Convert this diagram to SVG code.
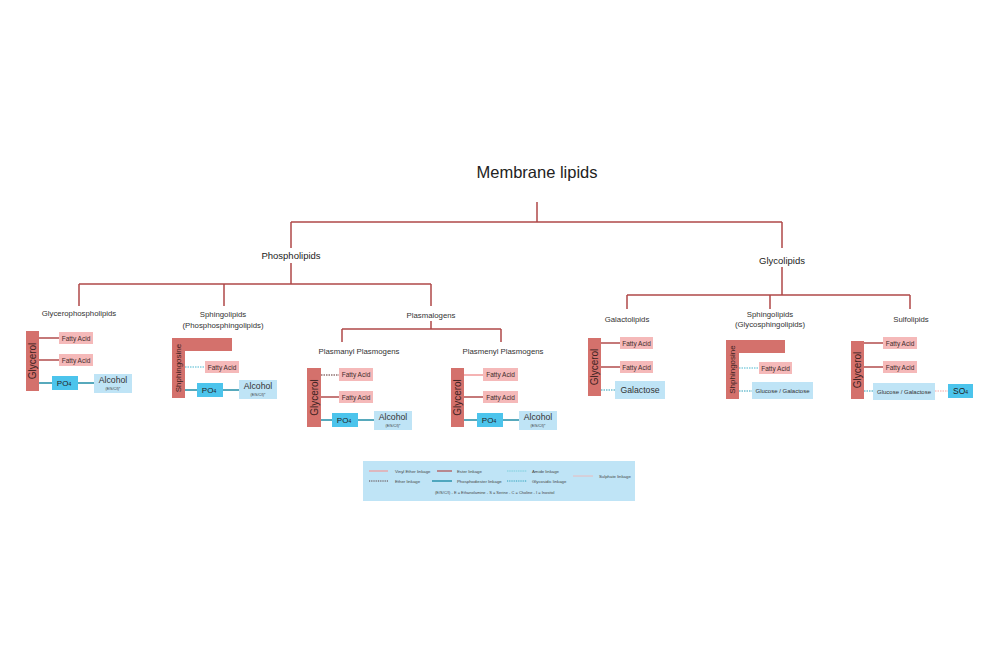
<svg xmlns="http://www.w3.org/2000/svg" width="1000" height="667" viewBox="0 0 1000 667">
<style>
text{font-family:"Liberation Sans","Noto Sans",Arial,sans-serif;fill:#222;text-anchor:middle}
.tree{stroke:#b04848;stroke-width:1.5;fill:none}
.bar{fill:#d4716c}
.fa{fill:#f5b9b9}
.po{fill:#4cc4ec}
.lb{fill:#bfe4f6}
.fat{font-size:6.5px;fill:#3d2b2b}
.bt{font-size:10px;fill:#3a2222}
.st{font-size:7.8px;fill:#333}
.ester{stroke:#b24c4c;stroke-width:1.5}
.vinyl{stroke:#f29a9a;stroke-width:1.5}
.ether{stroke:#5a2a2a;stroke-width:1.2;stroke-dasharray:1.5 1}
.phos{stroke:#1f8da6;stroke-width:1.6}
.glyco{stroke:#2aa0ba;stroke-width:1.2;stroke-dasharray:1.5 1}
.amide{stroke:#4bb8cf;stroke-width:1.2;stroke-dasharray:1.5 1}
.sulph{stroke:#f4a6a6;stroke-width:1.2;stroke-dasharray:1.5 1}
.alc{font-size:8.7px;fill:#333}
.alcs{font-size:3.5px;fill:#333}
.lt{font-size:4.3px;fill:#444;text-anchor:start}
</style>
<rect width="1000" height="667" fill="#ffffff"/>

<g id="tree-connectors">
<path class="tree" d="M537,202 V222 M291,222 H782 M291,222 V248 M782,222 V248"/>
<path class="tree" d="M291,263 V284 M79,284 H431 M79,284 V306 M224,284 V306 M431,284 V306"/>
<path class="tree" d="M431,321 V329 M342,329 H501 M342,329 V342 M501,329 V342"/>
<path class="tree" d="M782,267 V295 M627,295 H910 M627,295 V309 M770,295 V309 M910,295 V309"/>
</g>

<g id="title"><text x="537" y="178" style="font-size:16.5px">Membrane lipids</text></g>
<g id="phospholipids"><text x="291" y="259" style="font-size:9.5px">Phospholipids</text></g>
<g id="glycolipids"><text x="782" y="264" style="font-size:9.5px">Glycolipids</text></g>

<g id="glycerophospholipids">
<text class="st" x="79" y="316">Glycerophospholipids</text>
<g class="link">
<line class="ester" x1="39" y1="338" x2="59" y2="338"/>
<line class="ester" x1="39" y1="360" x2="59" y2="360"/>
<line class="phos" x1="39" y1="383" x2="94" y2="383"/>
</g>
<rect class="bar" x="26" y="331" width="13" height="60"/>
<text class="bt" transform="translate(36.3,361) rotate(-90)">Glycerol</text>
<rect class="fa" x="59" y="332" width="34" height="12"/>
<text class="fat" x="76" y="340.5">Fatty Acid</text>
<rect class="fa" x="59" y="354" width="34" height="12"/>
<text class="fat" x="76" y="362.5">Fatty Acid</text>
<rect class="po" x="52" y="376" width="26" height="14"/>
<text x="64" y="386" style="font-size:8px">PO<tspan style="font-size:5px">4</tspan></text>
<rect class="lb" x="94" y="374" width="38" height="19"/>
<text class="alc" x="113" y="383">Alcohol</text>
<text class="alcs" x="113" y="390">(E/S/C/I)*</text>
</g>

<g id="phosphosphingolipids">
<text class="st" x="223" y="317">Sphingolipids</text>
<text class="st" x="223" y="328">(Phosphosphingolipids)</text>
<line class="amide" x1="185" y1="367" x2="205" y2="367"/>
<line class="phos" x1="185" y1="390" x2="239" y2="390"/>
<path class="bar" d="M172,338 H232 V351 H185 V398 H172 Z"/>
<text transform="translate(181.2,368) rotate(-90)" style="font-size:8px;fill:#3a2222">Shphingosine</text>
<rect class="fa" x="205" y="361" width="34" height="12"/>
<text class="fat" x="222" y="369.5">Fatty Acid</text>
<rect class="po" x="197" y="383" width="26" height="14"/>
<text x="209" y="393" style="font-size:8px">PO<tspan style="font-size:5px">4</tspan></text>
<rect class="lb" x="239" y="380" width="38" height="19"/>
<text class="alc" x="258" y="389">Alcohol</text>
<text class="alcs" x="258" y="396">(E/S/C/I)*</text>
</g>

<g id="plasmalogens">
<text class="st" x="431" y="318">Plasmalogens</text>
</g>

<g id="plasmanyl">
<text class="st" x="359" y="354">Plasmanyl Plasmogens</text>
<line class="ether" x1="321" y1="375" x2="339" y2="375"/>
<line class="ester" x1="321" y1="397" x2="339" y2="397"/>
<line class="phos" x1="321" y1="420" x2="374" y2="420"/>
<rect class="bar" x="307" y="368" width="14" height="59"/>
<text class="bt" transform="translate(317.8,397.5) rotate(-90)">Glycerol</text>
<rect class="fa" x="339" y="368" width="34" height="13"/>
<text class="fat" x="356" y="377">Fatty Acid</text>
<rect class="fa" x="339" y="391" width="34" height="12"/>
<text class="fat" x="356" y="399.5">Fatty Acid</text>
<rect class="po" x="332" y="413" width="26" height="14"/>
<text x="344" y="423" style="font-size:8px">PO<tspan style="font-size:5px">4</tspan></text>
<rect class="lb" x="374" y="411" width="38" height="19"/>
<text class="alc" x="393" y="420">Alcohol</text>
<text class="alcs" x="393" y="427">(E/S/C/I)*</text>
</g>

<g id="plasmenyl">
<text class="st" x="503" y="354">Plasmenyl Plasmogens</text>
<line class="vinyl" x1="464" y1="375" x2="483" y2="375"/>
<line class="ester" x1="464" y1="397" x2="483" y2="397"/>
<line class="phos" x1="464" y1="420" x2="519" y2="420"/>
<rect class="bar" x="451" y="368" width="13" height="59"/>
<text class="bt" transform="translate(461.3,397.5) rotate(-90)">Glycerol</text>
<rect class="fa" x="483" y="368" width="35" height="13"/>
<text class="fat" x="500.5" y="377">Fatty Acid</text>
<rect class="fa" x="483" y="391" width="35" height="12"/>
<text class="fat" x="500.5" y="399.5">Fatty Acid</text>
<rect class="po" x="477" y="413" width="26" height="14"/>
<text x="489" y="423" style="font-size:8px">PO<tspan style="font-size:5px">4</tspan></text>
<rect class="lb" x="519" y="411" width="38" height="19"/>
<text class="alc" x="538" y="420">Alcohol</text>
<text class="alcs" x="538" y="427">(E/S/C/I)*</text>
</g>

<g id="galactolipids">
<text class="st" x="627" y="322">Galactolipids</text>
<line class="ester" x1="601" y1="343" x2="620" y2="343"/>
<line class="ester" x1="601" y1="367" x2="620" y2="367"/>
<line class="glyco" x1="601" y1="390" x2="615" y2="390"/>
<rect class="bar" x="588" y="338" width="13" height="58"/>
<text class="bt" transform="translate(598.3,367) rotate(-90)">Glycerol</text>
<rect class="fa" x="620" y="337" width="33" height="12"/>
<text class="fat" x="636.5" y="345.5">Fatty Acid</text>
<rect class="fa" x="620" y="361" width="33" height="12"/>
<text class="fat" x="636.5" y="369.5">Fatty Acid</text>
<rect class="lb" x="615" y="381" width="50" height="18"/>
<text x="640" y="393" style="font-size:8.7px;fill:#333">Galactose</text>
</g>

<g id="glycosphingolipids">
<text class="st" x="770" y="317">Sphingolipids</text>
<text class="st" x="770" y="327">(Glycosphingolipids)</text>
<line class="amide" x1="739" y1="368" x2="759" y2="368"/>
<line class="glyco" x1="739" y1="391" x2="752" y2="391"/>
<path class="bar" d="M726,340 H785 V353 H739 V399 H726 Z"/>
<text transform="translate(735.2,369.5) rotate(-90)" style="font-size:8px;fill:#3a2222">Shphingosine</text>
<rect class="fa" x="759" y="362" width="33" height="12"/>
<text class="fat" x="775.5" y="370.5">Fatty Acid</text>
<rect class="lb" x="752" y="382" width="61" height="17"/>
<text x="782.5" y="392.8" style="font-size:6px;fill:#333">Glucose / Galactose</text>
</g>

<g id="sulfolipids">
<text class="st" x="911" y="322">Sulfolipids</text>
<line class="ester" x1="864" y1="343" x2="883" y2="343"/>
<line class="ester" x1="864" y1="367" x2="883" y2="367"/>
<line class="glyco" x1="864" y1="391" x2="873" y2="391"/>
<line class="sulph" x1="935" y1="391" x2="948" y2="391"/>
<rect class="bar" x="851" y="341" width="13" height="58"/>
<text class="bt" transform="translate(861.3,370) rotate(-90)">Glycerol</text>
<rect class="fa" x="883" y="337" width="34" height="12"/>
<text class="fat" x="900" y="345.5">Fatty Acid</text>
<rect class="fa" x="883" y="361" width="34" height="12"/>
<text class="fat" x="900" y="369.5">Fatty Acid</text>
<rect class="lb" x="873" y="383" width="62" height="17"/>
<text x="904" y="393.8" style="font-size:6px;fill:#333">Glucose / Galactose</text>
<rect class="po" x="948" y="384" width="25" height="14"/>
<text x="960.5" y="394" style="font-size:8.5px">SO<tspan style="font-size:5px">4</tspan></text>
</g>

<g id="legend">
<rect class="lb" x="363" y="461" width="272" height="40"/>
<line x1="369" y1="471" x2="388" y2="471" style="stroke:#f29a9a;stroke-width:1.2"/>
<text class="lt" x="395" y="472.5">Vinyl Ether linkage</text>
<line x1="437" y1="471" x2="452" y2="471" style="stroke:#b24c4c;stroke-width:1.2"/>
<text class="lt" x="457" y="472.5">Ester linkage</text>
<line x1="507" y1="471" x2="527" y2="471" style="stroke:#7ccfdc;stroke-width:1;stroke-dasharray:1.5 0.7"/>
<text class="lt" x="532" y="472.5">Amide linkage</text>
<line x1="369" y1="481" x2="388" y2="481" style="stroke:#4a2a2a;stroke-width:0.9;stroke-dasharray:1 0.8"/>
<text class="lt" x="395" y="482.5">Ether linkage</text>
<line x1="432" y1="481" x2="452" y2="481" style="stroke:#1f8da6;stroke-width:1.4"/>
<text class="lt" x="457" y="482.5">Phosphodiester linkage</text>
<line x1="507" y1="481" x2="527" y2="481" style="stroke:#2aa0ba;stroke-width:1;stroke-dasharray:1 0.8"/>
<text class="lt" x="532" y="482.5">Glycosidic linkage</text>
<line x1="573" y1="476" x2="593" y2="476" style="stroke:#f6b0b0;stroke-width:0.8"/>
<text class="lt" x="599" y="477.5">Sulphate linkage</text>
<text class="lt" x="435" y="493.5" style="font-size:4px">(E/S/C/I)  -  E = Ethanolamine  -  S = Serine  -  C = Choline  -  I = Inositol</text>
</g>
</svg>
